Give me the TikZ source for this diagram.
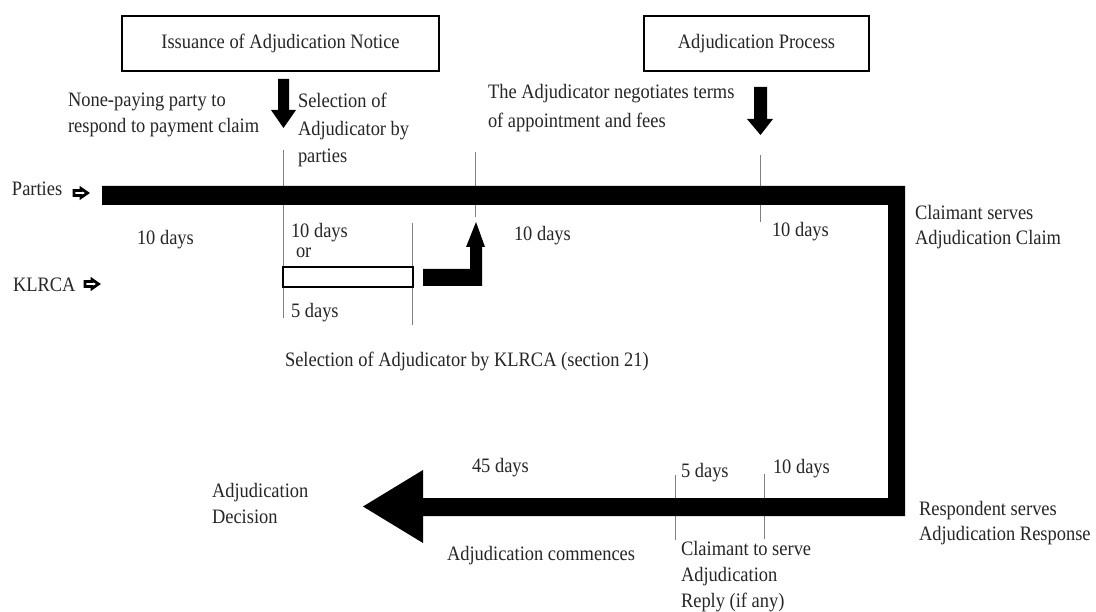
\documentclass[tikz,border=0pt]{standalone}
\usepackage{fontspec}
\setmainfont[FakeStretch=0.9]{Liberation Serif}
\newcommand\stk[2]{\vtop{\baselineskip=#1pt\lineskiplimit=-100pt #2}}
\begin{document}
\begin{tikzpicture}[x=1pt,y=-1pt,
  txt/.style={anchor=base west,inner sep=0pt,outer sep=0pt,text=black!85,font=\fontsize{20.5}{24}\selectfont},
  stagebox/.style={draw=black,line width=1.3pt,fill=white,inner sep=0pt,text=black!85,font=\fontsize{20.5}{24}\selectfont},
  tick/.style={draw=black!50,line width=1pt},
  bar/.style={fill=black,draw=none},
  icon/.style={draw=black,line width=2.8pt,fill=white,line join=miter}]
\useasboundingbox (0,0) rectangle (1096,612);
\fill[white] (0,0) rectangle (1096,612);
% top boxes
\node[stagebox,minimum width=317pt,minimum height=55pt] (notice) at (280.5,43.5) {Issuance of Adjudication Notice};
\node[stagebox,minimum width=225pt,minimum height=55pt] (process) at (756.5,43.5) {Adjudication Process};
% down arrows
\fill (278,79) -- (289,79) -- (289,110) -- (296,110) -- (283.5,128) -- (271,110) -- (278,110) -- cycle;
\fill (754,87) -- (767,87) -- (767,119) -- (773,119) -- (760.5,135) -- (747,119) -- (754,119) -- cycle;
% thin tick lines
\coordinate (t1a) at (283,150); \coordinate (t1b) at (283,318);
\coordinate (t2a) at (412.5,223); \coordinate (t2b) at (412.5,325);
\coordinate (t3a) at (475,152); \coordinate (t3b) at (475,217);
\coordinate (t4a) at (760,155); \coordinate (t4b) at (760,222);
\coordinate (t5a) at (675,475); \coordinate (t5b) at (675,540);
\coordinate (t6a) at (764,474); \coordinate (t6b) at (764,539);
\draw[tick] (t1a) -- (t1b);
\draw[tick] (t2a) -- (t2b);
\draw[tick] (t3a) -- (t3b);
\draw[tick] (t4a) -- (t4b);
\draw[tick] (t5a) -- (t5b);
\draw[tick] (t6a) -- (t6b);
% main timeline bar with arrow head
\fill[bar] (102,186) -- (905,186) -- (905,516) -- (423,516) -- (423,543) -- (363,506.5) -- (423,470) -- (423,498) -- (888,498) -- (888,205) -- (102,205) -- cycle;
% KLRCA option rectangle
\draw[line width=1.3pt,fill=white] (283,267) rectangle (413,287);
% L-shaped arrow
\fill[bar] (423,269) -- (470,269) -- (470,247) -- (466,247) -- (476,222) -- (485,247) -- (482,247) -- (482,286) -- (423,286) -- cycle;
% small arrow icons
\draw[icon] (74,190.5) -- (81,190.5) -- (81,188.5) -- (87.5,193) -- (81,197.5) -- (81,195.5) -- (74,195.5) -- cycle;
\draw[icon] (85,281.5) -- (92,281.5) -- (92,279.5) -- (98.5,284) -- (92,288.5) -- (92,286.5) -- (85,286.5) -- cycle;
% labels
\node[txt] (parties) at (12,196) {Parties};
\node[txt] (klrca) at (13,292) {KLRCA};
\node[txt] (nonpay) at (68,107) {\stk{26}{\hbox{None-paying party to}\hbox{respond to payment claim}}};
\node[txt] (selpart) at (298,108) {\stk{27.5}{\hbox{Selection of}\hbox{Adjudicator by}\hbox{parties}}};
\node[txt] (negot) at (488,99) {\stk{28.5}{\hbox{The Adjudicator negotiates terms}\hbox{of appointment and fees}}};
\node[txt] (d1) at (137,245) {10 days};
\node[txt] (d2) at (291,238) {10 days};
\node[txt] (or) at (296,258) {or};
\node[txt] (d3) at (291,318) {5 days};
\node[txt] (d4) at (514,241) {10 days};
\node[txt] (d5) at (772,237) {10 days};
\node[txt] (claim) at (915,220) {\stk{25}{\hbox{Claimant serves}\hbox{Adjudication Claim}}};
\node[txt] (selk) at (285,367) {Selection of Adjudicator by KLRCA (section 21)};
\node[txt] (d6) at (472,472) {45 days};
\node[txt] (d7) at (681,477) {5 days};
\node[txt] (d8) at (773,473) {10 days};
\node[txt] (decision) at (212,497) {\stk{26}{\hbox{Adjudication}\hbox{Decision}}};
\node[txt] (resp) at (919,515) {\stk{25}{\hbox{Respondent serves}\hbox{Adjudication Response}}};
\node[txt] (comm) at (447,560) {Adjudication commences};
\node[txt] (reply) at (681,555) {\stk{26}{\hbox{Claimant to serve}\hbox{Adjudication}\hbox{Reply (if any)}}};
\end{tikzpicture}
\end{document}
